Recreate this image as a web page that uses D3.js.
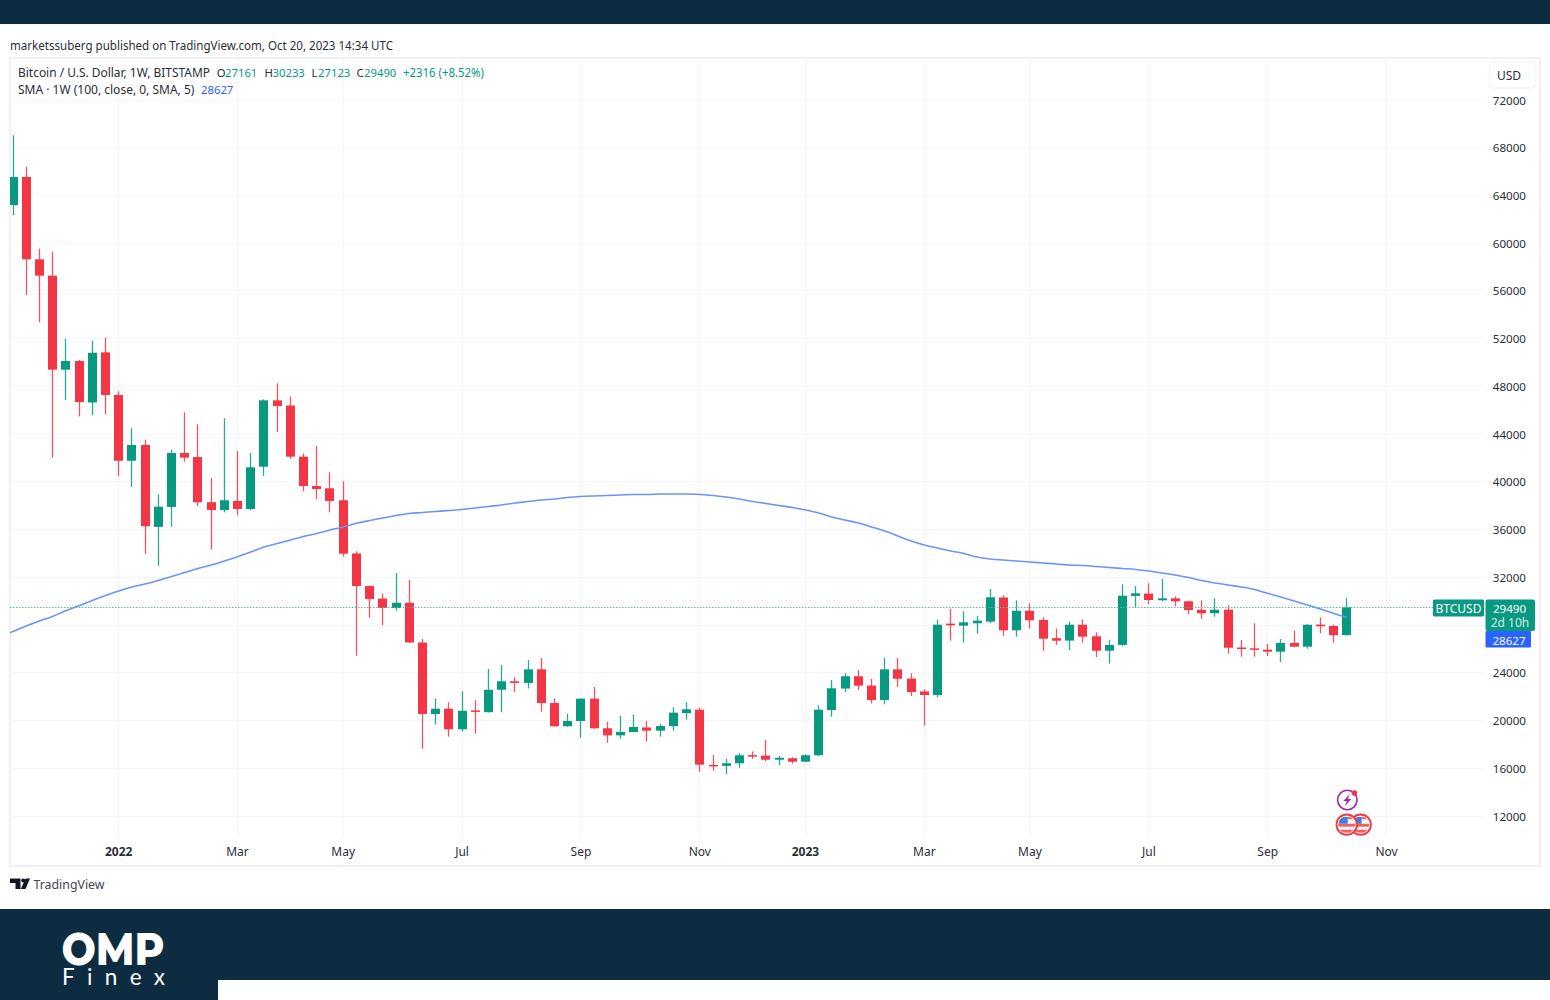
<!DOCTYPE html>
<html><head><meta charset="utf-8">
<script src="https://cdn.jsdelivr.net/npm/d3@7/dist/d3.min.js"></script>
<style>html,body{margin:0;padding:0;background:#fff}svg{display:block}text{font-family:"Noto Sans",sans-serif}</style>
</head><body><svg id="c" width="1550" height="1000"></svg>
<script>
const opens=[63200,65550,58650,57280,49400,50130,46650,50850,47280,41770,
43090,36230,37900,42420,42080,38300,37640,38400,37730,41270,
46830,46400,42110,39650,39460,38460,34000,31270,30220,29430,
29870,26540,20550,20990,19270,20850,20700,22580,23290,23150,
24290,21470,19520,19960,21830,19350,18760,19040,19420,19150,
19530,20620,20910,16280,16200,16420,17100,17060,16720,16840,
16550,17090,20880,22680,23710,22930,21720,24290,23520,22440,
22140,28120,27950,28150,28290,30310,27560,29200,28430,26900,
26700,28030,27060,25850,26340,30440,30640,30080,30240,29990,
29280,28990,29290,26120,26050,25940,25770,26500,26190,28040,
27920,27161];
const highs=[69040,66390,59540,59290,52000,50210,51830,52080,47590,44490,
43530,38960,42670,45830,44820,40310,45330,42590,42420,46920,
48260,47170,42390,43000,40800,40050,34180,31320,30660,32360,
31780,26830,21860,21530,22450,21700,24320,24650,23620,25070,
25240,21860,20570,21860,22810,19900,20400,20520,19980,19730,
21110,21530,21090,17110,16780,17280,17420,18390,17030,16920,
17170,21280,23400,23960,24230,23480,25240,25240,23960,22620,
28450,29370,29150,28780,31020,30490,30080,29820,28650,27700,
28280,28480,27390,26770,31420,31270,31500,31860,30410,30040,
30080,30240,29680,26750,28150,26410,26830,27530,28050,28650,
28030,30233];
const lows=[62340,55660,53370,42030,46860,45490,45580,45660,40490,39570,
33980,32970,36240,41690,37960,34320,37450,37200,37620,40490,
44200,41940,39210,38540,37450,33730,25430,28620,28000,29200,
26500,17640,19670,18650,19060,18900,20670,20690,22370,22700,
20740,19490,19480,18560,19300,18140,18480,19030,18230,18650,
19150,20070,15700,15800,15520,16050,16780,16610,16270,16380,
16520,17040,20320,22370,22560,21440,21360,22810,22050,19570,
21950,26690,26520,27280,28170,27110,27030,27700,25850,26350,
25910,26520,25320,24760,26250,29510,29770,29990,29570,28900,
28530,28700,25600,25350,25350,25410,24900,26140,26020,27310,
26520,27123];
const closes=[65550,58650,57280,49400,50130,46690,50820,47280,41770,43090,
36280,37920,42420,42030,38290,37640,38460,37730,41220,46830,
46360,42110,39650,39400,38400,33980,31270,30180,29430,29870,
26540,20550,20990,19270,20820,20740,22580,23290,23150,24290,
21470,19520,19960,21830,19350,18760,19040,19460,19150,19540,
20660,20940,16300,16200,16420,17090,17030,16720,16880,16550,
17090,20910,22700,23710,22920,21720,24290,23500,22390,22140,
28030,27980,28230,28370,30330,27560,29200,28400,26860,26690,
28030,27030,25850,26330,30460,30660,30100,30240,29990,29260,
28990,29290,26100,26020,25930,25770,26500,26190,28030,27900,
27150,29490];
const smaBefore=27020;
const sma=[27460,27920,28340,28720,29200,29620,30060,30470,30850,31190,
31440,31730,32070,32400,32740,33030,33370,33730,34120,34540,
34840,35130,35420,35670,35970,36220,36530,36760,36970,37180,
37350,37430,37520,37600,37680,37810,37940,38060,38230,38350,
38480,38560,38690,38770,38820,38860,38900,38940,38940,38980,
38980,38980,38940,38860,38730,38560,38350,38190,38020,37850,
37640,37390,37060,36800,36550,36220,35880,35460,35040,34710,
34460,34210,34000,33700,33540,33450,33370,33280,33200,33120,
33030,32990,32910,32820,32740,32660,32530,32360,32200,31990,
31730,31530,31360,31190,30980,30660,30350,30020,29680,29350,
28970,28627];
const priceTicks=[72000,68000,64000,60000,56000,52000,48000,44000,40000,36000,32000,28000,24000,20000,16000,12000];
const hiddenPriceLabels=[28000];
const timeTicks=[["2022-01-03","2022",true],["2022-03-07","Mar",false],["2022-05-02","May",false],["2022-07-04","Jul",false],["2022-09-05","Sep",false],["2022-11-07","Nov",false],["2023-01-02","2023",true],["2023-03-06","Mar",false],["2023-05-01","May",false],["2023-07-03","Jul",false],["2023-09-04","Sep",false],["2023-11-06","Nov",false]];
const firstWeek="2021-11-08", axisEnd="2023-11-06";
const lastClose=29490, lastSma=28627;
const UP="#089981",DOWN="#F23645",NAVY="#0e2c41",GRID="#f3f5fa",FRAME="#eff1f7",INK="#2a2e39";

const svg=d3.select("#c");
const day=s=>new Date(s+"T00:00:00Z");
const weeks=d3.utcMonday.range(day(firstWeek),d3.utcWeek.offset(day(firstWeek),102));
const x=d3.scaleUtc().domain([day(firstWeek),day(axisEnd)]).range([13,1386.6]);
const y=d3.scaleLinear().domain([12000,72000]).range([816,100]);
const px=v=>Math.floor(v)+.5;

// page bands
svg.append("rect").attr("width",1550).attr("height",1000).attr("fill","#fff");
svg.append("rect").attr("width",1550).attr("height",24).attr("fill",NAVY);
svg.append("rect").attr("y",909).attr("width",1550).attr("height",91).attr("fill",NAVY);
svg.append("rect").attr("x",218).attr("y",980).attr("width",1332).attr("height",20).attr("fill","#fff");

// header
const txt=(g,tx,ty,s,o={})=>g.append("text").attr("x",tx).attr("y",ty).text(s)
  .attr("font-size",o.size||12).attr("fill",o.fill||INK).attr("text-anchor",o.anchor||"start")
  .attr("font-weight",o.weight||400).attr("dominant-baseline","central");
const fit=(t,w)=>t.attr("textLength",w).attr("lengthAdjust","spacingAndGlyphs");
fit(txt(svg,10,45.5,"marketssuberg published on TradingView.com, Oct 20, 2023 14:34 UTC"),383);

// frame
svg.append("rect").attr("x",10).attr("y",58).attr("width",1530).attr("height",808).attr("fill","none").attr("stroke",FRAME).attr("stroke-width",2);

// grid
const grid=svg.append("g").attr("stroke",GRID).attr("stroke-width",1.2);
grid.selectAll("line.h").data(priceTicks).join("line").attr("class","h")
  .attr("x1",11).attr("x2",1485).attr("y1",d=>px(y(d))).attr("y2",d=>px(y(d)));
grid.selectAll("line.v").data(timeTicks).join("line").attr("class","v")
  .attr("y1",59).attr("y2",838).attr("x1",d=>px(x(day(d[0])))).attr("x2",d=>px(x(day(d[0]))));

// plot
svg.append("clipPath").attr("id","plot").append("rect").attr("x",10).attr("y",59).attr("width",1475).attr("height",780);
const plot=svg.append("g").attr("clip-path","url(#plot)");
const candles=weeks.map((d,i)=>({d,o:opens[i],h:highs[i],l:lows[i],c:closes[i]}));
const col=d=>d.c>=d.o?UP:DOWN;
plot.selectAll("rect.wick").data(candles).join("rect").attr("class","wick")
  .attr("x",d=>px(x(d.d))-.65).attr("width",1.3)
  .attr("y",d=>y(d.h)).attr("height",d=>y(d.l)-y(d.h)).attr("fill",col).attr("opacity",.85);
plot.selectAll("rect.body").data(candles).join("rect").attr("class","body")
  .attr("x",d=>px(x(d.d))-4.5).attr("width",9)
  .attr("y",d=>y(Math.max(d.o,d.c))).attr("height",d=>Math.max(1.5,Math.abs(y(d.o)-y(d.c)))).attr("fill",col);
const smaWeeks=[d3.utcWeek.offset(day(firstWeek),-1),...weeks];
plot.append("path").datum([smaBefore,...sma]).attr("fill","none").attr("stroke","#6b93f8").attr("stroke-width",1.6)
  .attr("d",d3.line().x((d,i)=>x(smaWeeks[i])).y(d=>y(d)).curve(d3.curveMonotoneX));
svg.append("line").attr("x1",10).attr("x2",1433).attr("y1",px(y(lastClose))).attr("y2",px(y(lastClose)))
  .attr("stroke","#55bba7").attr("stroke-width",1).attr("stroke-dasharray","1.5 1.5");

// axis labels
priceTicks.filter(v=>!hiddenPriceLabels.includes(v)).forEach(v=>txt(svg,1526,y(v),String(v),{anchor:"end",size:11.6}));
timeTicks.forEach(t=>txt(svg,x(day(t[0])),851.5,t[1],{anchor:"middle",weight:t[2]?700:400}));

// legend
fit(txt(svg,18,72.5,"Bitcoin / U.S. Dollar, 1W, BITSTAMP"),192);
[[216.7,"O",INK],[225,"27161",UP],[264.5,"H",INK],[272.5,"30233",UP],[311.5,"L",INK],[318,"27123",UP],[356.5,"C",INK],[364,"29490",UP]]
 .forEach(a=>txt(svg,a[0],72.5,a[1],{fill:a[2],size:11.3}));
fit(txt(svg,403,72.5,"+2316 (+8.52%)",{fill:UP}),81);
txt(svg,18,89.5,"SMA · 1W (100, close, 0, SMA, 5)");
txt(svg,201,89.5,"28627",{fill:"#2962FF",size:11.3});

// USD button
svg.append("rect").attr("x",1489.5).attr("y",62).attr("width",46.5).attr("height",26).attr("rx",4).attr("fill","#fff").attr("stroke",FRAME);
txt(svg,1509,75.5,"USD",{anchor:"middle"});

// badges
svg.append("rect").attr("x",1433).attr("y",599.5).attr("width",51).attr("height",17).attr("rx",1.5).attr("fill",UP);
txt(svg,1458.5,608,"BTCUSD",{anchor:"middle",fill:"#fff"});
svg.append("rect").attr("x",1485.5).attr("y",599.5).attr("width",49.5).attr("height",31.5).attr("rx",2).attr("fill",UP);
txt(svg,1509.5,608,String(lastClose),{anchor:"middle",fill:"#fff",size:11.6});
txt(svg,1510,622,"2d 10h",{anchor:"middle",fill:"#d3efe8"});
svg.append("rect").attr("x",1485.5).attr("y",631).attr("width",45.5).attr("height",16.5).attr("rx",1).attr("fill","#2962FF");
txt(svg,1509,640,String(lastSma),{anchor:"middle",fill:"#fff",size:11.6});

// event icons
const ic=svg.append("g");
ic.append("circle").attr("cx",1347.3).attr("cy",800).attr("r",9.7).attr("fill","#fff").attr("stroke","#9c27b0").attr("stroke-width",1.6);
ic.append("path").attr("transform","translate(1347.3,800)").attr("d","M2.5,-6 L-4,1 L-0.5,1 L-2.5,6 L4,-1 L0.5,-1 Z").attr("fill","#9c27b0");
ic.append("circle").attr("cx",1354.4).attr("cy",793).attr("r",2.8).attr("fill","#f23645");
const flag=(cx,cy,id)=>{
  svg.append("clipPath").attr("id",id).append("circle").attr("cx",cx).attr("cy",cy).attr("r",8.5);
  const g=svg.append("g");
  g.append("circle").attr("cx",cx).attr("cy",cy).attr("r",10.2).attr("fill","#fff").attr("stroke","#f23645").attr("stroke-width",1.8);
  const f=g.append("g").attr("clip-path",`url(#${id})`);
  f.append("rect").attr("x",cx-9).attr("y",cy-1).attr("width",18).attr("height",3).attr("fill","#f4605f");
  f.append("rect").attr("x",cx-9).attr("y",cy+5).attr("width",18).attr("height",3).attr("fill","#f4605f");
  f.append("rect").attr("x",cx+1).attr("y",cy-8).attr("width",8).attr("height",2.5).attr("fill","#f4605f");
  f.append("rect").attr("x",cx-9).attr("y",cy-8).attr("width",10).attr("height",7).attr("fill","#3f7fd8");
};
flag(1360.7,824.7,"f2");flag(1346.7,824.7,"f1");

// TradingView mark
const tv=svg.append("g").attr("fill","#131722");
tv.append("path").attr("d","M10,878.5 H20.5 V889 H15.5 V883 H10 Z");
tv.append("circle").attr("cx",23.2).attr("cy",880.5).attr("r",2);
tv.append("path").attr("d","M25.5,878.5 H30 L25.5,889 H20.8 Z");
fit(txt(svg,33.5,883.5,"TradingView",{size:13,fill:"#434651"}),71);

// OMP Finex
fit(svg.append("text").attr("x",61.5).attr("y",965).text("OMP").attr("font-size",45).attr("font-weight",800).attr("fill","#fff").style("font-family","Montserrat,'Open Sans',sans-serif"),103);
svg.append("text").attr("x",62).attr("y",985.3).text("Finex").attr("font-size",22.5).attr("font-weight",400).attr("fill","#fff").style("font-family","Lato,sans-serif").attr("textLength",103).attr("lengthAdjust","spacing");
</script></body></html>
